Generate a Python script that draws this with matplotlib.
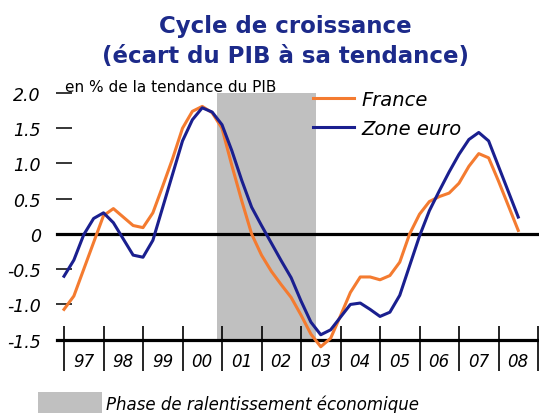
import matplotlib
matplotlib.use("Agg")
import matplotlib.pyplot as plt
from matplotlib.patches import Rectangle
import numpy as np

# quarterly output gap, % of trend GDP, 1997Q1 .. 2008Q3
quarters = 1997 + 0.25 * np.arange(47)

france = [-1.07, -0.88, -0.50, -0.12, 0.26, 0.36, 0.24, 0.12, 0.09, 0.30,
          0.68, 1.07, 1.50, 1.74, 1.81, 1.72, 1.50, 0.97, 0.47, 0.00,
          -0.30, -0.53, -0.72, -0.90, -1.15, -1.42, -1.60, -1.48, -1.16, -0.83,
          -0.61, -0.61, -0.65, -0.59, -0.40, 0.00, 0.28, 0.46, 0.53, 0.58,
          0.72, 0.96, 1.14, 1.08, 0.75, 0.40, 0.05]

zone_euro = [-0.60, -0.37, -0.01, 0.22, 0.30, 0.16, -0.07, -0.30, -0.33, -0.09,
             0.38, 0.85, 1.32, 1.62, 1.79, 1.73, 1.55, 1.18, 0.76, 0.38,
             0.12, -0.13, -0.38, -0.62, -0.95, -1.25, -1.43, -1.36, -1.18, -1.00,
             -0.98, -1.07, -1.17, -1.11, -0.87, -0.45, -0.03, 0.33, 0.61, 0.88,
             1.13, 1.34, 1.44, 1.32, 0.96, 0.60, 0.24]

slowdown = (2000.875, 2003.375)

years = list(range(1997, 2010))
year_labels = ['97', '98', '99', '00', '01', '02', '03', '04', '05', '06', '07', '08']
y_ticks = [2.0, 1.5, 1.0, 0.5, 0, -0.5, -1.0, -1.5]
y_labels = ['2.0', '1.5', '1.0', '0.5', '0', '-0.5', '-1.0', '-1.5']

orange = '#f47b30'
navy = '#1a1f8f'
grey = '#c0c0c0'

fig = plt.figure(figsize=(5.39, 4.14), dpi=100)
ax = fig.add_axes([64 / 539, 1 - 340.7 / 414, 474 / 539, 246.7 / 414])

ax.axvspan(*slowdown, color=grey, lw=0, zorder=0)

ax.axhline(0, xmin=-7 / 474, xmax=1.01, color='black', lw=2.3, clip_on=False, zorder=1)
ax.axhline(-1.5, xmin=-7 / 474, xmax=1.01, color='black', lw=2.3, clip_on=False, zorder=1)

ax.plot(quarters, france, color=orange, lw=2.2, label='France', zorder=3, clip_on=False)
ax.plot(quarters, zone_euro, color=navy, lw=2.2, label='Zone euro', zorder=4, clip_on=False)

ax.set_xlim(1997, 2009)
ax.set_ylim(-1.5, 2.0)
for s in ax.spines.values():
    s.set_visible(False)

# year separators
ax.vlines(years, -1.94, -1.30, color='black', lw=1.2, clip_on=False, zorder=2)

ax.set_xticks([])
ax.set_xticks([y + 0.5 for y in years[:-1]], minor=True)
ax.set_xticklabels(year_labels, minor=True, style='italic', fontsize=12)
ax.tick_params(axis='x', which='minor', length=0, pad=9)

ax.set_yticks(y_ticks)
ax.set_yticklabels(y_labels, style='italic', fontsize=12.5)
ax.tick_params(axis='y', direction='inout', length=11.5, width=1.1, pad=11)

ax.legend(loc='upper left', bbox_to_anchor=(313 / 539, 1 - 91 / 414),
          bbox_transform=fig.transFigure, frameon=False,
          prop={'style': 'italic', 'size': 14}, handlelength=2.1,
          handletextpad=0.4, labelspacing=0.5, borderpad=0, borderaxespad=0)

fig.text(65 / 539, 1 - 88 / 414, 'en % de la tendance du PIB', fontsize=11,
         va='center', ha='left')

title_color = '#1c2a8a'
fig.text(285 / 539, 1 - 26 / 414, 'Cycle de croissance', fontsize=16.5,
         fontweight='heavy', color=title_color, ha='center', va='center')
fig.text(285 / 539, 1 - 57 / 414, '(écart du PIB à sa tendance)', fontsize=16.5,
         fontweight='heavy', color=title_color, ha='center', va='center')

fig.add_artist(Rectangle((38 / 539, 0), 64 / 539, 21 / 414,
                         transform=fig.transFigure, color=grey, lw=0))
fig.text(106 / 539, 1 - 405 / 414, 'Phase de ralentissement économique',
         fontsize=12, style='italic', va='center', ha='left')

fig.savefig('out.png', dpi=100)
